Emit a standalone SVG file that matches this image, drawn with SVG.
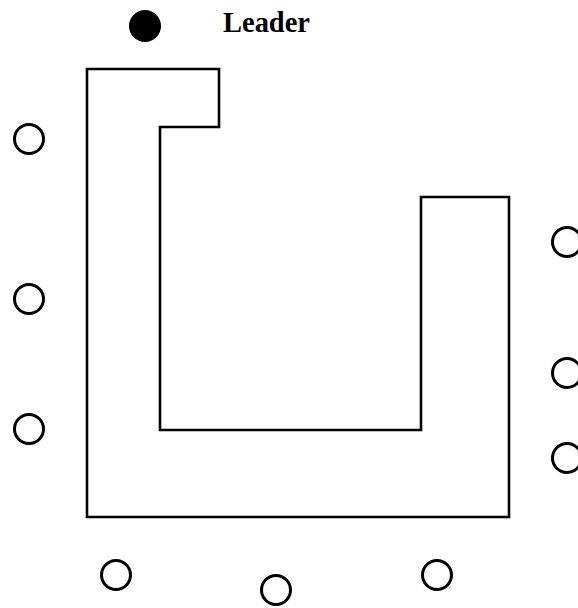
<svg xmlns="http://www.w3.org/2000/svg" width="578" height="608" viewBox="0 0 578 608">
<style>
.m{fill:none;stroke:#000;stroke-width:3}
.w{fill:none;stroke:#000;stroke-width:2.6}
.lbl{font-family:"Liberation Serif",serif;font-weight:bold;font-size:29px;fill:#000}
</style>
<rect width="578" height="608" fill="#fff"/>
<g id="wall">
<path class="w" d="M87,69 H219 V127 H160 V430 H421 V197 H509 V517 H87 Z"/>
</g>
<g id="leader">
<circle cx="145" cy="26" r="16" fill="#000"/>
<text class="lbl" x="223" y="32" textLength="87" lengthAdjust="spacingAndGlyphs">Leader</text>
</g>
<g id="followers">
<circle class="m" cx="29" cy="139" r="14.5"/>
<circle class="m" cx="29" cy="299" r="14.5"/>
<circle class="m" cx="29" cy="429" r="14.5"/>
<circle class="m" cx="567" cy="242" r="14.5"/>
<circle class="m" cx="567" cy="373" r="14.5"/>
<circle class="m" cx="567" cy="458" r="14.5"/>
<circle class="m" cx="116" cy="575" r="14.5"/>
<circle class="m" cx="276" cy="590" r="14.5"/>
<circle class="m" cx="437" cy="575" r="14.5"/>
</g>
</svg>
